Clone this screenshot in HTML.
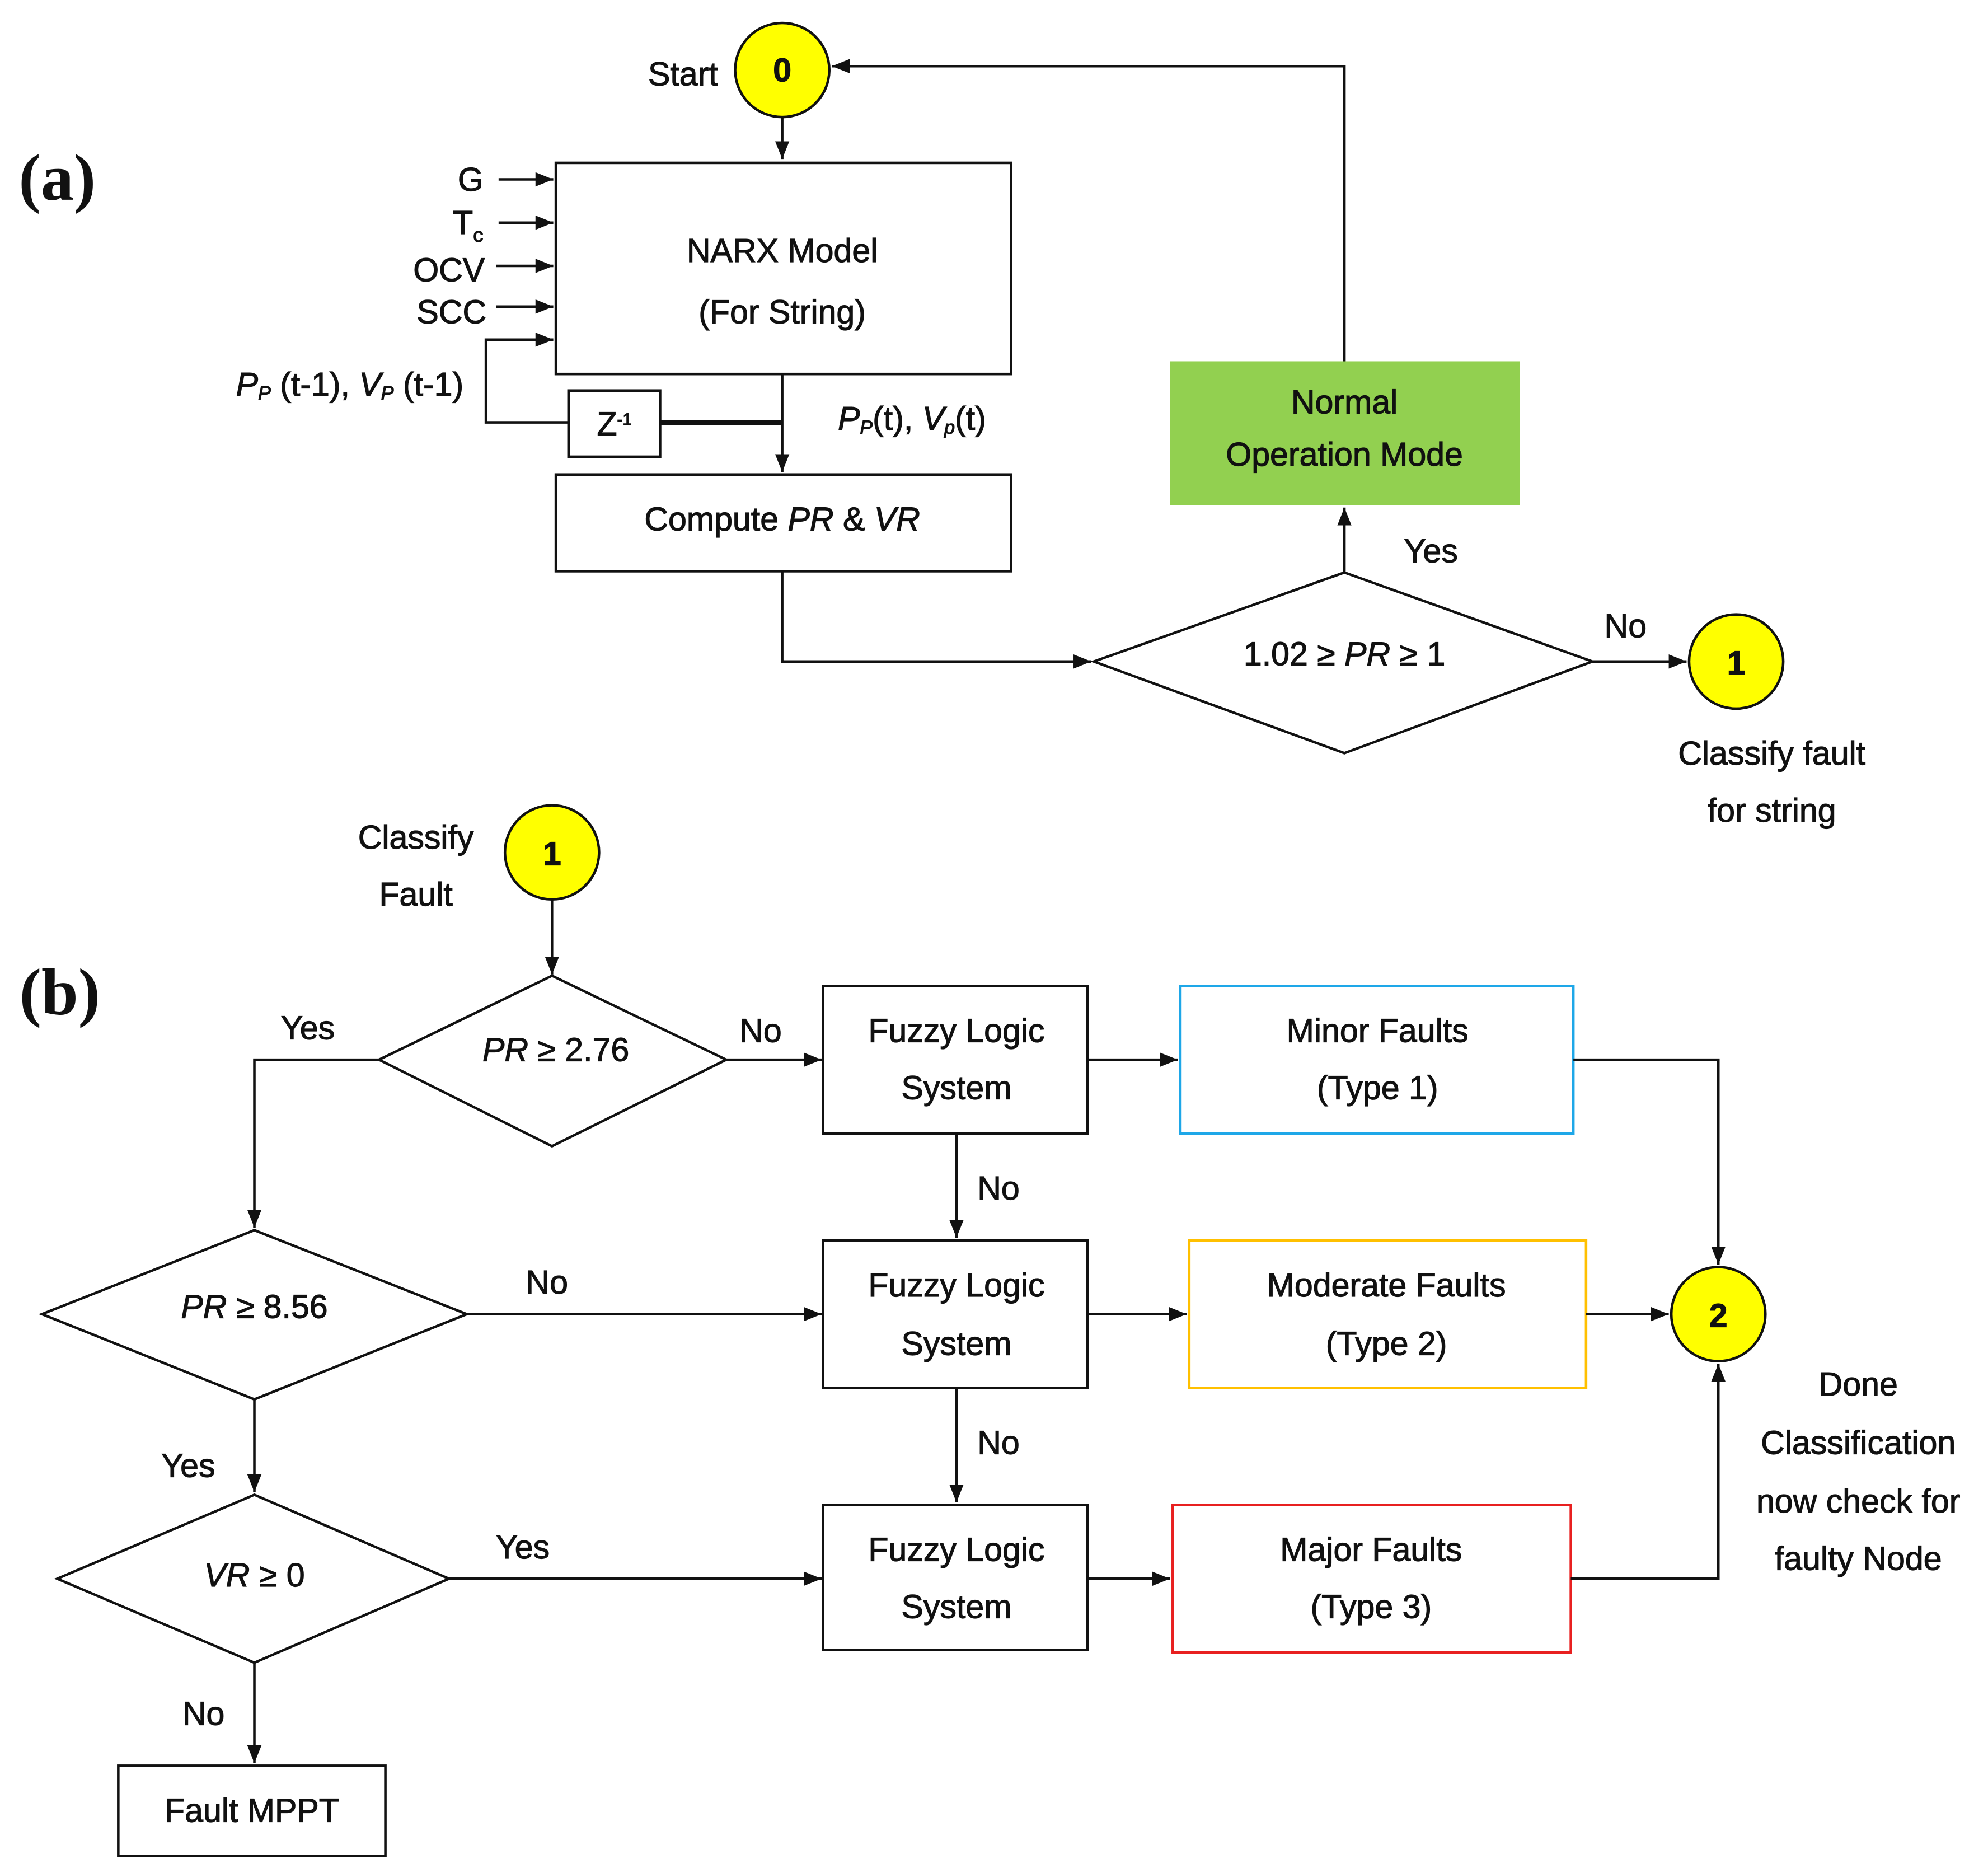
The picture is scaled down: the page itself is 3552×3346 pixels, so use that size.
<!DOCTYPE html>
<html><head><meta charset="utf-8"><style>
html,body{margin:0;padding:0;background:#fff}
svg{display:block}
text{font-family:"Liberation Sans",sans-serif;font-size:26px;fill:#111;text-anchor:middle;stroke:#111;stroke-width:0.5}
.i{font-style:italic}
.lab{font-family:"Liberation Serif",serif;font-weight:bold;font-size:52px;stroke:none}
</style></head><body>
<svg width="3552" height="3346" viewBox="0 0 1563 1472.3" xmlns="http://www.w3.org/2000/svg">
<defs>
<marker id="b" viewBox="0 0 10 10" refX="10" refY="5" markerWidth="14" markerHeight="14" orient="auto" markerUnits="userSpaceOnUse"><path d="M0,1L10,5L0,9z" fill="#111"/></marker></defs>
<g fill="none" stroke="#111" stroke-width="2">
<!-- (a) -->
<line x1="615" y1="92" x2="615" y2="125" marker-end="url(#b)"/>
<rect x="437" y="128" width="358" height="166"/>
<line x1="392" y1="141" x2="435" y2="141" marker-end="url(#b)"/>
<line x1="392" y1="175" x2="435" y2="175" marker-end="url(#b)"/>
<line x1="390" y1="209" x2="435" y2="209" marker-end="url(#b)"/>
<line x1="390" y1="241" x2="435" y2="241" marker-end="url(#b)"/>
<polyline points="447,332 382,332 382,267 435,267" marker-end="url(#b)"/>
<rect x="447" y="307" width="72" height="52"/>
<line x1="519" y1="332" x2="615" y2="332" stroke-width="4"/>
<line x1="615" y1="294" x2="615" y2="371" marker-end="url(#b)"/>
<rect x="437" y="373" width="358" height="76"/>
<polyline points="615,449 615,520 858,520" marker-end="url(#b)"/>
<polygon points="860,520 1057,450 1252,520 1057,592"/>
<line x1="1252" y1="520" x2="1326" y2="520" marker-end="url(#b)"/>
<line x1="1057" y1="450" x2="1057" y2="399" marker-end="url(#b)"/>
<rect x="920" y="284" width="275" height="113" fill="#92d050" stroke="none"/>
<polyline points="1057,284 1057,52 654,52" marker-end="url(#b)"/>
<!-- (b) -->
<line x1="434" y1="707" x2="434" y2="766" marker-end="url(#b)"/>
<polygon points="298,833 434,767 571,833 434,901"/>
<line x1="571" y1="833" x2="646" y2="833" marker-end="url(#b)"/>
<rect x="647" y="775" width="208" height="116"/>
<line x1="855" y1="833" x2="926" y2="833" marker-end="url(#b)"/>
<rect x="928" y="775" width="309" height="116" stroke="#1ea7e8"/>
<polyline points="1237,833 1351,833 1351,994" marker-end="url(#b)"/>
<polyline points="298,833 200,833 200,965" marker-end="url(#b)"/>
<polygon points="33,1033 200,967 367,1033 200,1100"/>
<line x1="367" y1="1033" x2="646" y2="1033" marker-end="url(#b)"/>
<rect x="647" y="975" width="208" height="116"/>
<line x1="752" y1="891" x2="752" y2="973" marker-end="url(#b)"/>
<line x1="855" y1="1033" x2="933" y2="1033" marker-end="url(#b)"/>
<rect x="935" y="975" width="312" height="116" stroke="#ffc000"/>
<line x1="1247" y1="1033" x2="1312" y2="1033" marker-end="url(#b)"/>
<line x1="200" y1="1100" x2="200" y2="1173" marker-end="url(#b)"/>
<polygon points="45,1241 200,1175 353,1241 200,1307"/>
<line x1="353" y1="1241" x2="646" y2="1241" marker-end="url(#b)"/>
<rect x="647" y="1183" width="208" height="114"/>
<line x1="752" y1="1091" x2="752" y2="1181" marker-end="url(#b)"/>
<line x1="855" y1="1241" x2="920" y2="1241" marker-end="url(#b)"/>
<rect x="922" y="1183" width="313" height="116" stroke="#e82020"/>
<polyline points="1235,1241 1351,1241 1351,1072" marker-end="url(#b)"/>
<line x1="200" y1="1307" x2="200" y2="1386" marker-end="url(#b)"/>
<rect x="93" y="1388" width="210" height="71"/>
</g>
<g fill="#ffff00" stroke="#111" stroke-width="2">
<circle cx="615" cy="55" r="37"/><circle cx="1365" cy="520" r="37"/>
<circle cx="434" cy="670" r="37"/><circle cx="1351" cy="1033" r="37"/>
</g>
<text class="lab" x="45" y="157">(a)</text>
<text class="lab" x="47" y="797">(b)</text>
<text x="615" y="64" font-weight="bold">0</text>
<text x="537" y="67">Start</text>
<text x="615" y="206" font-size="30">NARX Model</text>
<text x="615" y="254">(For String)</text>
<text x="370" y="150">G</text>
<text x="368" y="184">T<tspan font-size="16" dy="6">c</tspan></text>
<text x="353" y="221">OCV</text>
<text x="355" y="254">SCC</text>
<text x="275" y="311">
<tspan class="i">P<tspan font-size="15" dy="3">P</tspan></tspan><tspan dy="-3"> (t-1), </tspan><tspan class="i">V<tspan font-size="15" dy="3">P</tspan></tspan><tspan dy="-3"> (t-1)</tspan></text>
<text x="483" y="342" font-size="20">Z<tspan font-size="13" dy="-8">-1</tspan></text>
<text x="717" y="338"><tspan class="i">P<tspan font-size="15" dy="3">P</tspan></tspan><tspan dy="-3">(t), </tspan><tspan class="i">V<tspan font-size="15" dy="3">p</tspan></tspan><tspan dy="-3">(t)</tspan></text>
<text x="615" y="417">Compute <tspan class="i">PR</tspan> &amp; <tspan class="i">VR</tspan></text>
<text x="1057" y="523">1.02 ≥ <tspan class="i">PR</tspan> ≥ 1</text>
<text x="1278" y="501">No</text>
<text x="1125" y="442">Yes</text>
<text x="1365" y="530" font-weight="bold">1</text>
<text x="1393" y="601">Classify fault</text>
<text x="1393" y="646">for string</text>
<text x="1057" y="325">Normal</text>
<text x="1057" y="366">Operation Mode</text>
<text x="434" y="680" font-weight="bold">1</text>
<text x="327" y="667">Classify</text>
<text x="327" y="712">Fault</text>
<text x="437" y="834"><tspan class="i">PR</tspan> ≥ 2.76</text>
<text x="598" y="819">No</text>
<text x="242" y="817">Yes</text>
<text x="752" y="819">Fuzzy Logic</text><text x="752" y="864">System</text>
<text x="1083" y="819">Minor Faults</text><text x="1083" y="864">(Type 1)</text>
<text x="200" y="1036"><tspan class="i">PR</tspan> ≥ 8.56</text>
<text x="430" y="1017">No</text>
<text x="785" y="943">No</text>
<text x="752" y="1019">Fuzzy Logic</text><text x="752" y="1065">System</text>
<text x="1090" y="1019">Moderate Faults</text><text x="1090" y="1065">(Type 2)</text>
<text x="1351" y="1043" font-weight="bold">2</text>
<text x="148" y="1161">Yes</text>
<text x="200" y="1247"><tspan class="i">VR</tspan> ≥ 0</text>
<text x="411" y="1225">Yes</text>
<text x="785" y="1143">No</text>
<text x="752" y="1227">Fuzzy Logic</text><text x="752" y="1272">System</text>
<text x="1078" y="1227">Major Faults</text><text x="1078" y="1272">(Type 3)</text>
<text x="1461" y="1097">Done</text>
<text x="1461" y="1143">Classification</text>
<text x="1461" y="1189">now check for</text>
<text x="1461" y="1234">faulty Node</text>
<text x="160" y="1356">No</text>
<text x="198" y="1432">Fault MPPT</text>
</svg>
</body></html>
